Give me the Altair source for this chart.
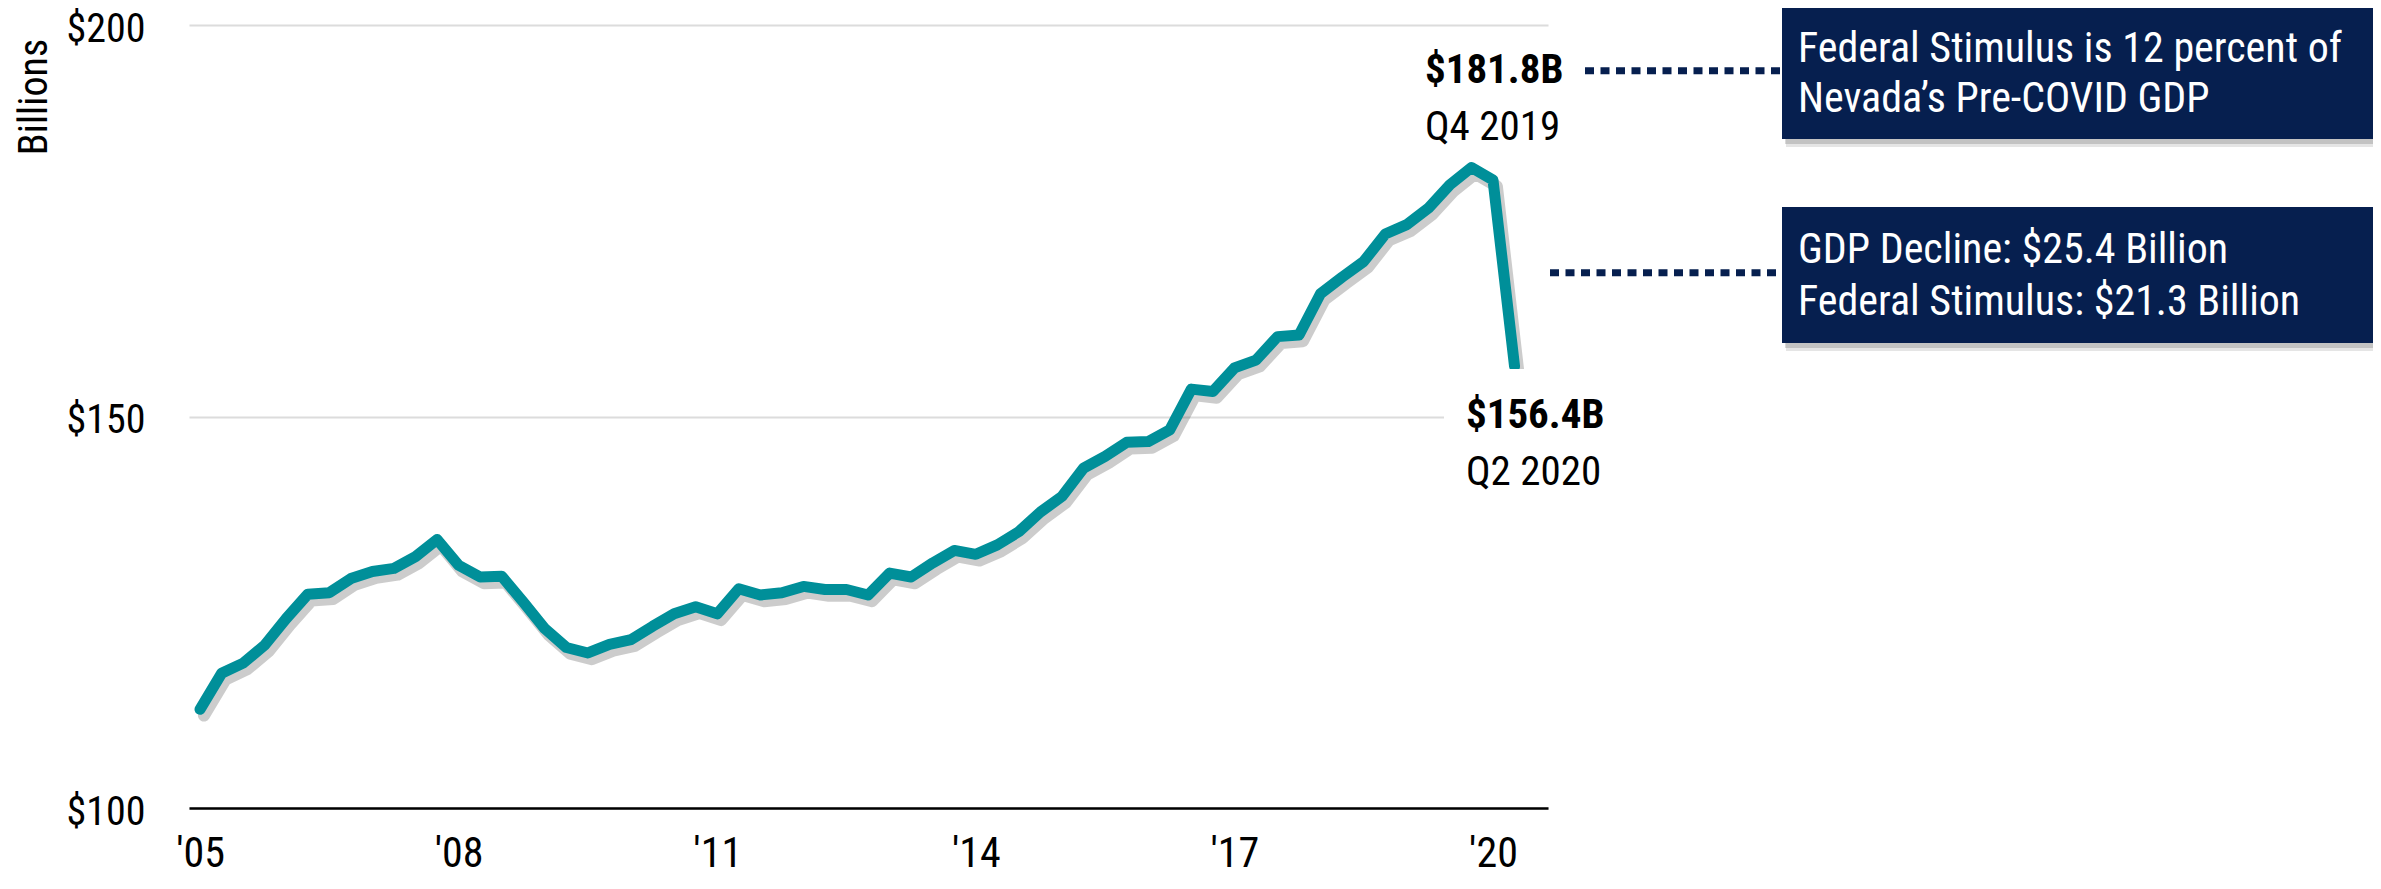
import altair as alt
import pandas as pd

# ---------------- data ----------------
start_year = 2005
gdp = [112.6, 117.2, 118.5, 120.8, 124.2, 127.3, 127.5, 129.3, 130.2, 130.6,
       132.1, 134.3, 131.0, 129.5, 129.6, 126.3, 122.9, 120.5, 119.8, 120.9,
       121.5, 123.2, 124.8, 125.7, 124.8, 128.0, 127.2, 127.5, 128.3, 127.9,
       127.9, 127.2, 130.0, 129.5, 131.3, 132.9, 132.4, 133.6, 135.3, 137.8,
       139.8, 143.4, 144.9, 146.7, 146.8, 148.3, 153.5, 153.2, 156.2, 157.2,
       160.2, 160.4, 165.7, 167.8, 169.8, 173.3, 174.5, 176.6, 179.6, 181.8,
       180.2, 156.4]
tick_years = [2005, 2008, 2011, 2014, 2017, 2020]
y_ticks = [100, 150, 200]
callout_values = ["$181.8B", "$156.4B"]
callout_periods = ["Q4 2019", "Q2 2020"]
box1_lines = ["Federal Stimulus is 12 percent of", "Nevada\u2019s Pre-COVID GDP"]
box2_lines = ["GDP Decline: $25.4 Billion", "Federal Stimulus: $21.3 Billion"]
y_title = "Billions"

n = len(gdp)
df = pd.DataFrame({"t": [start_year + i / 4 for i in range(n)], "gdp": gdp})
peak_i = gdp.index(max(gdp))
callouts = pd.DataFrame({
    "t": [df.t[peak_i], df.t[n - 1]],
    "gdp": [gdp[peak_i], gdp[n - 1]],
    "vlabel": callout_values,
    "plabel": callout_periods,
})

# ---------------- style ----------------
FONT = "Roboto Condensed, Liberation Sans Narrow, Arial Narrow, Roboto, sans-serif"
TEAL = "#008f99"
NAVY = "#061f4f"
W, H = 1359, 783
X_DOMAIN = [2004.872, 2020.638]

x_enc = alt.X(
    "t:Q",
    scale=alt.Scale(domain=X_DOMAIN, nice=False, zero=False),
    axis=alt.Axis(values=tick_years,
                  labelExpr="\"'\" + substring(toString(datum.value), 2, 4)",
                  grid=False, ticks=False, tickSize=0, domain=True,
                  domainColor="#000", domainWidth=2.5,
                  labelFont=FONT, labelFontSize=42, labelColor="#000",
                  labelPadding=25, labelFlush=False, title=None),
)
y_enc = alt.Y(
    "gdp:Q",
    scale=alt.Scale(domain=[100, 200], nice=False, zero=False),
    axis=alt.Axis(values=y_ticks, labelExpr="'$' + datum.value",
                  grid=True, gridColor="#dcdcdc", gridWidth=2,
                  domain=False, ticks=False, tickSize=0,
                  labelFont=FONT, labelFontSize=40, labelColor="#000",
                  labelPadding=44, labelOffset=4, labelFlush=False, title=None),
)

base = alt.Chart(df)

shadow = base.transform_calculate(
    t="datum.t + 0.045", gdp="datum.gdp - 0.8"
).mark_line(color="#000", opacity=0.2, strokeWidth=12,
            strokeJoin="round", strokeCap="round").encode(x=x_enc, y=y_enc)

line = base.mark_line(color=TEAL, strokeWidth=11, strokeJoin="round",
                      strokeCap="round").encode(x=x_enc, y=y_enc)

one = pd.DataFrame({"k": [0]})

cover = alt.Chart(one).mark_rect(color="white").encode(
    x=alt.value(1255), x2=alt.value(1371), y=alt.value(344), y2=alt.value(475))

c0 = alt.Chart(callouts.iloc[[0]])
c1 = alt.Chart(callouts.iloc[[1]])
txt_kw = dict(align="left", baseline="alphabetic", font=FONT, fontSize=41, color="#000")
lab_peak_v = c0.mark_text(dx=-46.5, dy=-84.5, fontWeight="bold", **txt_kw).encode(x=x_enc, y=y_enc, text="vlabel:N")
lab_peak_p = c0.mark_text(dx=-46.5, dy=-27.5, **txt_kw).encode(x=x_enc, y=y_enc, text="plabel:N")
lab_last_v = c1.mark_text(dx=-48.6, dy=61.6, fontWeight="bold", **txt_kw).encode(x=x_enc, y=y_enc, text="vlabel:N")
lab_last_p = c1.mark_text(dx=-48.6, dy=118.6, **txt_kw).encode(x=x_enc, y=y_enc, text="plabel:N")

dots1 = alt.Chart(one).mark_rule(color=NAVY, strokeWidth=7, strokeDash=[9, 6.5]).encode(
    x=alt.value(1396), x2=alt.value(1593), y=alt.value(45.7))
dots2 = alt.Chart(one).mark_rule(color=NAVY, strokeWidth=7, strokeDash=[9, 6.5]).encode(
    x=alt.value(1361), x2=alt.value(1593), y=alt.value(247.7))


def box(y0, y1):
    sh1 = alt.Chart(one).mark_rect(color="#000", opacity=0.10).encode(
        x=alt.value(1597), x2=alt.value(2194), y=alt.value(y0 + 4), y2=alt.value(y1 + 8))
    sh2 = alt.Chart(one).mark_rect(color="#000", opacity=0.15).encode(
        x=alt.value(1596), x2=alt.value(2191), y=alt.value(y0 + 3), y2=alt.value(y1 + 5))
    b = alt.Chart(one).mark_rect(color=NAVY).encode(
        x=alt.value(1593), x2=alt.value(2188), y=alt.value(y0), y2=alt.value(y1))
    return [sh1, sh2, b]


def box_text(lines, ys):
    out = []
    for s, yy in zip(lines, ys):
        out.append(alt.Chart(one).mark_text(align="left", baseline="alphabetic", font=FONT,
                                            fontSize=42, color="white").encode(
            x=alt.value(1609), y=alt.value(yy), text=alt.value(s)))
    return out


ytitle = alt.Chart(one).mark_text(angle=270, align="center", baseline="alphabetic",
                                  font=FONT, fontSize=40, color="#000").encode(
    x=alt.value(-142), y=alt.value(72), text=alt.value(y_title))

layers = [shadow, line, cover, lab_peak_v, lab_peak_p, lab_last_v, lab_last_p,
          dots1, dots2] + box(-21, 114) + box(182, 318) + \
    box_text(box1_lines, [37, 87]) + box_text(box2_lines, [238, 290]) + [ytitle]

chart = alt.layer(*layers).properties(
    width=W, height=H,
    autosize=alt.AutoSizeParams(type="none"),
    padding={"left": 181, "top": 17, "right": 825, "bottom": 73},
).configure(background="white", view=alt.ViewConfig(stroke=None))

chart.save("out.html", embed_options={"renderer": "svg", "actions": False})
